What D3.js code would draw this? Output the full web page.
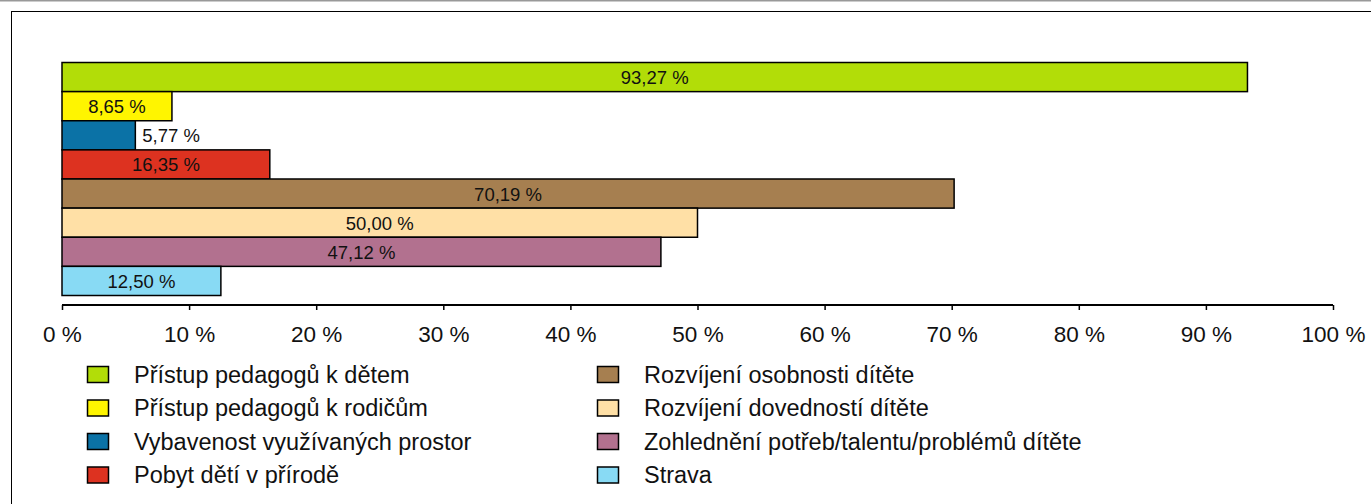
<!DOCTYPE html>
<html>
<head>
<meta charset="utf-8">
<script src="https://cdn.jsdelivr.net/npm/d3@7"></script>
<style>
  body { margin: 0; background: #fff; }
  svg { display: block; font-family: "Liberation Sans", Arial, sans-serif; }
</style>
</head>
<body>
<svg width="1371" height="504"></svg>
<script>
var categories = [
  "Přístup pedagogů k dětem",
  "Přístup pedagogů k rodičům",
  "Vybavenost využívaných prostor",
  "Pobyt dětí v přírodě",
  "Rozvíjení osobnosti dítěte",
  "Rozvíjení dovedností dítěte",
  "Zohlednění potřeb/talentu/problémů dítěte",
  "Strava"
];
var values = [93.27, 8.65, 5.77, 16.35, 70.19, 50.00, 47.12, 12.50];
var colors = ["#b2dd08", "#fff500", "#0b72a6", "#dd3220", "#a67f50", "#ffe0a6", "#b2718f", "#88daf4"];
var ticks = [0, 10, 20, 30, 40, 50, 60, 70, 80, 90, 100];

var svg = d3.select("svg"),
    width = +svg.attr("width"),
    height = +svg.attr("height");

// top rule and frame
svg.append("line")
   .attr("x1", 0).attr("x2", width)
   .attr("y1", 0.5).attr("y2", 0.5)
   .style("stroke", "#999").style("stroke-width", 2);

svg.append("rect")
   .attr("x", 11.5).attr("y", 11.5)
   .attr("width", width + 20).attr("height", height + 20)
   .style("fill", "none").style("stroke", "black").style("stroke-width", 1);

var x = d3.scaleLinear().domain([0, 100]).range([62, 1333]);
var y = d3.scaleBand().domain(categories).range([62.5, 295.5]).paddingInner(0);

var fmt = function(v) { return v.toFixed(2).replace(".", ",") + " %"; };

var bars = svg.append("g");
bars.selectAll("rect")
    .data(values)
    .enter().append("rect")
    .attr("x", x(0))
    .attr("y", function(d, i) { return y(categories[i]); })
    .attr("width", function(d) { return x(d) - x(0); })
    .attr("height", y.bandwidth())
    .style("fill", function(d, i) { return colors[i]; })
    .style("stroke", "black")
    .style("stroke-width", 1.5);

bars.selectAll("text")
    .data(values)
    .enter().append("text")
    .attr("y", function(d, i) { return y(categories[i]) + y.bandwidth() / 2 + 7; })
    .style("font-size", "18.5px")
    .style("fill", "#111")
    .text(fmt)
    .each(function(d) {
      var t = d3.select(this),
          w = this.getComputedTextLength(),
          bw = x(d) - x(0);
      if (bw > w + 20) {
        t.attr("x", x(0) + bw / 2).attr("text-anchor", "middle");
      } else {
        t.attr("x", x(d) + 7).attr("text-anchor", "start");
      }
    });

// axis
var axis = svg.append("g")
    .attr("transform", "translate(0,305)")
    .call(d3.axisBottom(x)
        .tickValues(ticks)
        .tickSize(5)
        .tickSizeOuter(0)
        .tickFormat(function(d) { return d + " %"; }));

axis.select(".domain").style("stroke", "black").style("stroke-width", 2)
    .attr("d", "M" + x(0) + ",0H" + x(100));
axis.selectAll(".tick line").style("stroke", "black").style("stroke-width", 1.5);
axis.selectAll(".tick text")
    .attr("y", 37).attr("dy", null)
    .style("font-size", "22.5px")
    .style("font-family", "'Liberation Sans', Arial, sans-serif")
    .style("fill", "#111");

// legend
var legend = svg.append("g");
var item = legend.selectAll("g")
    .data(categories)
    .enter().append("g")
    .attr("transform", function(d, i) {
      var col = Math.floor(i / 4), row = i % 4;
      return "translate(" + (col === 0 ? 87 : 597) + "," + (366 + row * 33.5) + ")";
    });

item.append("rect")
    .attr("x", 0.5).attr("y", 0.5)
    .attr("width", 21).attr("height", 16)
    .style("fill", function(d, i) { return colors[i]; })
    .style("stroke", "black")
    .style("stroke-width", 1.5);

item.append("text")
    .attr("x", 47)
    .attr("y", 16.5)
    .style("font-size", "23.5px")
    .style("fill", "#111")
    .text(function(d) { return d; });
</script>
</body>
</html>
